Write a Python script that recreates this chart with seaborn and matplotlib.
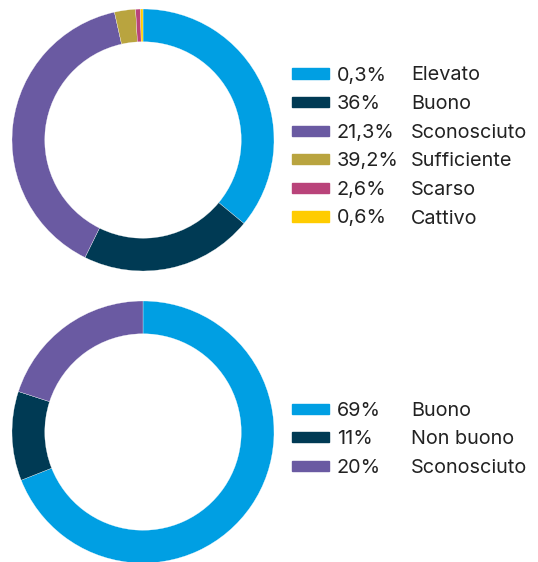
import matplotlib
matplotlib.use("Agg")
import matplotlib.pyplot as plt
import matplotlib.patches as mpatches
import seaborn as sns

# Data (slice order clockwise from 12 o'clock)
top_values = [36.0, 21.3, 39.2, 2.6, 0.6, 0.3]
top_colors = ["#009FE3", "#003A54", "#6A5AA2", "#B9A43F", "#B9437A", "#FFCC00"]
top_pct = ["0,3%", "36%", "21,3%", "39,2%", "2,6%", "0,6%"]
top_labels = ["Elevato", "Buono", "Sconosciuto", "Sufficiente", "Scarso", "Cattivo"]

bottom_values = [69, 11, 20]
bottom_colors = ["#009FE3", "#003A54", "#6A5AA2"]
bottom_pct = ["69%", "11%", "20%"]
bottom_labels = ["Buono", "Non buono", "Sconosciuto"]

sns.set_theme(style="white")
plt.rcParams["font.family"] = ["Inter", "DejaVu Sans"]

W, H = 538, 562
fig = plt.figure(figsize=(W / 100, H / 100), dpi=100)


def donut(cx, cy, r, values, colors):
    ax = fig.add_axes([(cx - r) / W, (H - cy - r) / H, 2 * r / W, 2 * r / H])
    ax.pie(values, colors=colors, startangle=90, counterclock=False,
           radius=1, wedgeprops=dict(width=0.25, edgecolor="white", linewidth=0.2))
    ax.set_xlim(-1, 1)
    ax.set_ylim(-1, 1)
    ax.set_axis_off()
    return ax


def legend(y0, colors, pcts, labels, step=28.6):
    for i, (c, p, l) in enumerate(zip(colors, pcts, labels)):
        y = y0 + i * step
        fig.patches.append(mpatches.Rectangle((292 / W, (H - y - 5) / H), 37 / W, 10 / H,
                                              transform=fig.transFigure, color=c))
        fig.text(337 / W, (H - y) / H, p, fontsize=14.3, color="#222222", va="center_baseline")
        fig.text(411 / W, (H - y) / H, l, fontsize=14.3, color="#222222", va="center_baseline")


donut(143, 140, 131, top_values, top_colors)
donut(143, 432, 131, bottom_values, bottom_colors)
legend(73.5, top_colors, top_pct, top_labels)
legend(408.5, bottom_colors, bottom_pct, bottom_labels)

fig.savefig("out.png", dpi=100)
